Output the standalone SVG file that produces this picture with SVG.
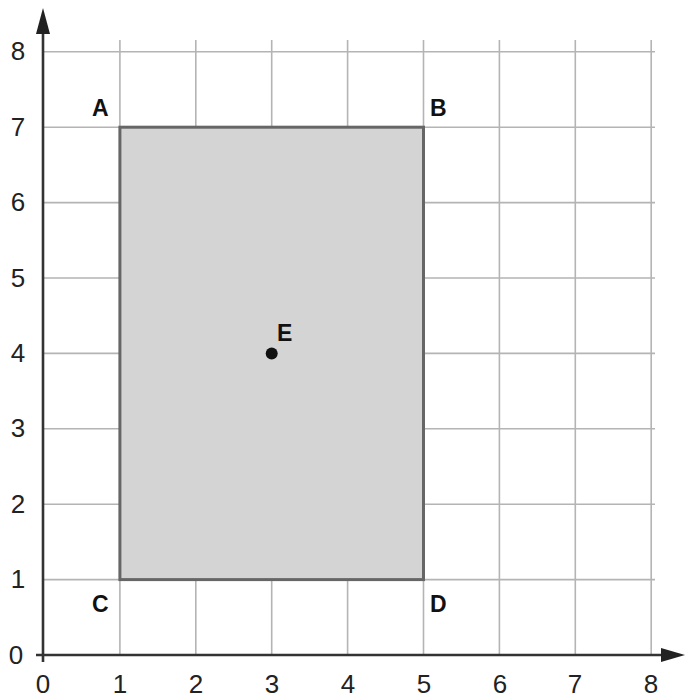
<svg xmlns="http://www.w3.org/2000/svg" width="685" height="700" viewBox="0 0 685 700">
<style>
.grid{stroke:#b4b4b4;stroke-width:1.6;fill:none}
.axis{stroke:#333;stroke-width:2.6;fill:none}
.tick{font-family:"Liberation Sans",Arial,sans-serif;font-size:26px;fill:#222;text-anchor:middle}
.lbl{font-family:"Liberation Sans",Arial,sans-serif;font-size:23px;font-weight:bold;fill:#111}
</style>
<rect width="685" height="700" fill="#fff"/>
<g id="grid">
<path class="grid" d="M119.9 40V655M195.8 40V655M271.7 40V655M347.6 40V655M423.5 40V655M499.4 40V655M575.3 40V655M651.2 40V655"/>
<path class="grid" d="M43 579.6H655M43 504.2H655M43 428.8H655M43 353.4H655M43 278H655M43 202.6H655M43 127.2H655M43 51.8H655"/>
</g>
<g id="rect">
<rect x="119.9" y="127.2" width="303.6" height="452.4" fill="#d4d4d4" stroke="#666" stroke-width="3"/>
</g>
<g id="axes">
<line class="axis" x1="43" y1="662" x2="43" y2="28"/>
<polygon points="43,8 36,34 50,34" fill="#222"/>
<line class="axis" x1="36" y1="655" x2="665" y2="655"/>
<polygon points="685,655 661,648 661,662" fill="#222"/>
</g>
<g id="ticks">
<text class="tick" x="18" y="60">8</text>
<text class="tick" x="18" y="136">7</text>
<text class="tick" x="18" y="211">6</text>
<text class="tick" x="18" y="287">5</text>
<text class="tick" x="18" y="362">4</text>
<text class="tick" x="18" y="437">3</text>
<text class="tick" x="18" y="513">2</text>
<text class="tick" x="18" y="588">1</text>
<text class="tick" x="16" y="664">0</text>
<text class="tick" x="43" y="693">0</text>
<text class="tick" x="120" y="693">1</text>
<text class="tick" x="196" y="693">2</text>
<text class="tick" x="272" y="693">3</text>
<text class="tick" x="348" y="693">4</text>
<text class="tick" x="424" y="693">5</text>
<text class="tick" x="500" y="693">6</text>
<text class="tick" x="575" y="693">7</text>
<text class="tick" x="651" y="693">8</text>
</g>
<g id="A"><text class="lbl" x="92" y="116">A</text></g>
<g id="B"><text class="lbl" x="430" y="116">B</text></g>
<g id="C"><text class="lbl" x="92" y="612">C</text></g>
<g id="D"><text class="lbl" x="430" y="612">D</text></g>
<g id="E">
<circle cx="271.7" cy="353.4" r="6" fill="#111"/>
<text class="lbl" x="277" y="341">E</text>
</g>
</svg>
